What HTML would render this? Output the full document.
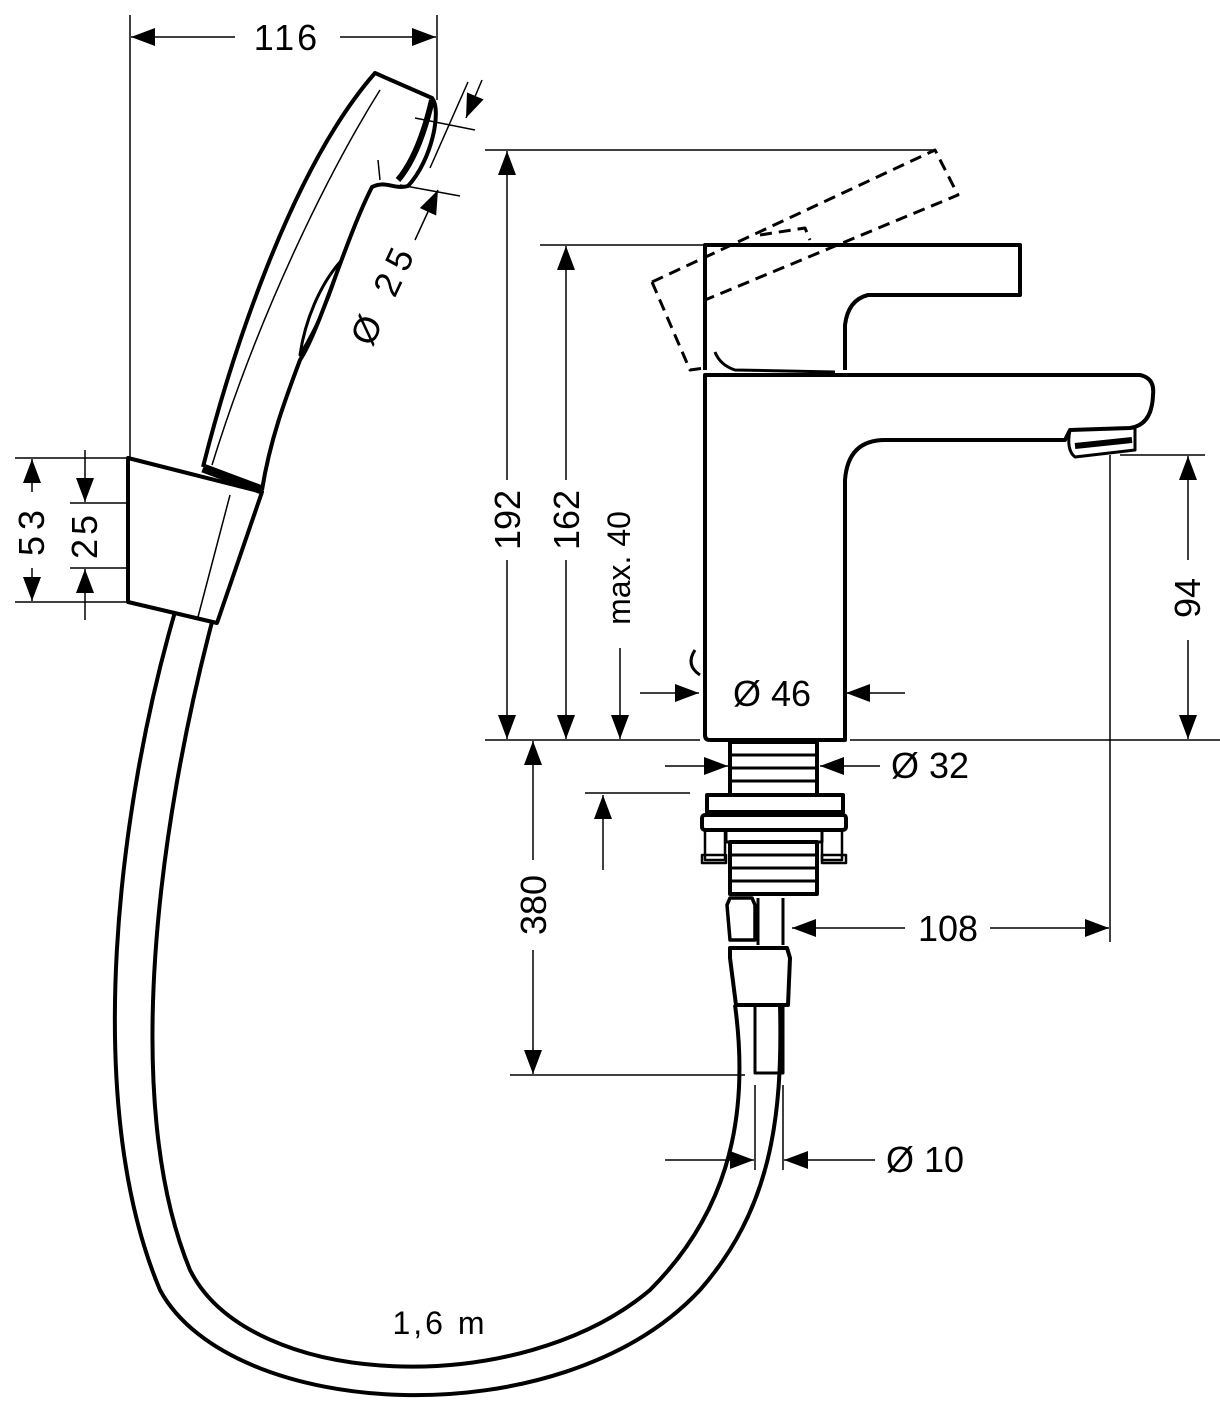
<!DOCTYPE html>
<html><head><meta charset="utf-8"><style>html,body{margin:0;padding:0;background:#fff}svg{display:block}text{font-family:"Liberation Sans",sans-serif;fill:#000}</style></head><body>
<svg width="1220" height="1420" viewBox="0 0 1220 1420" xmlns="http://www.w3.org/2000/svg">
<defs><marker id="a" markerWidth="26" markerHeight="18" refX="24" refY="9" orient="auto" markerUnits="userSpaceOnUse"><path d="M0,0 L24,9 L0,18z" fill="#000"/></marker></defs>
<g fill="none" stroke="#000" stroke-width="1.5">
<line x1="130" y1="15" x2="130" y2="458"/><line x1="437" y1="15" x2="437" y2="100"/>
<line x1="235" y1="37" x2="131" y2="37" marker-end="url(#a)"/><line x1="340" y1="37" x2="436" y2="37" marker-end="url(#a)"/>
<line x1="15" y1="458" x2="128" y2="458"/><line x1="15" y1="602" x2="128" y2="602"/>
<line x1="70" y1="503" x2="128" y2="503"/><line x1="70" y1="568" x2="128" y2="568"/>
<line x1="32" y1="492" x2="32" y2="459" marker-end="url(#a)"/><line x1="32" y1="568" x2="32" y2="601" marker-end="url(#a)"/>
<line x1="85" y1="450" x2="85" y2="502" marker-end="url(#a)"/><line x1="85" y1="620" x2="85" y2="569" marker-end="url(#a)"/>
<line x1="485" y1="150" x2="935" y2="150"/><line x1="540" y1="245" x2="705" y2="245"/>
<line x1="485" y1="740" x2="700" y2="740"/><line x1="850" y1="740" x2="1220" y2="740"/>
<line x1="507" y1="480" x2="507" y2="151" marker-end="url(#a)"/><line x1="507" y1="560" x2="507" y2="739" marker-end="url(#a)"/>
<line x1="566" y1="480" x2="566" y2="246" marker-end="url(#a)"/><line x1="566" y1="560" x2="566" y2="739" marker-end="url(#a)"/>
<line x1="620" y1="648" x2="620" y2="739" marker-end="url(#a)"/>
<line x1="1120" y1="455" x2="1205" y2="455"/><line x1="1110" y1="455" x2="1110" y2="942"/>
<line x1="1188" y1="560" x2="1188" y2="456" marker-end="url(#a)"/><line x1="1188" y1="640" x2="1188" y2="739" marker-end="url(#a)"/>
<line x1="640" y1="693" x2="699" y2="693" marker-end="url(#a)"/><line x1="905" y1="693" x2="846" y2="693" marker-end="url(#a)"/>
<line x1="665" y1="766" x2="728" y2="766" marker-end="url(#a)"/><line x1="880" y1="766" x2="820" y2="766" marker-end="url(#a)"/>
<line x1="585" y1="793" x2="690" y2="793"/><line x1="603" y1="870" x2="603" y2="795" marker-end="url(#a)"/>
<line x1="905" y1="928" x2="792" y2="928" marker-end="url(#a)"/><line x1="990" y1="928" x2="1109" y2="928" marker-end="url(#a)"/>
<line x1="533" y1="860" x2="533" y2="741" marker-end="url(#a)"/><line x1="533" y1="950" x2="533" y2="1074" marker-end="url(#a)"/>
<line x1="510" y1="1075" x2="745" y2="1075"/>
<line x1="755" y1="1085" x2="755" y2="1170"/><line x1="783" y1="1085" x2="783" y2="1170"/>
<line x1="665" y1="1160" x2="754" y2="1160" marker-end="url(#a)"/><line x1="875" y1="1160" x2="784" y2="1160" marker-end="url(#a)"/>
<line x1="468" y1="82" x2="430" y2="168"/>
<line x1="415" y1="118" x2="475" y2="130"/><line x1="400" y1="185" x2="460" y2="196"/>
<line x1="482" y1="80" x2="466" y2="118" marker-end="url(#a)"/><line x1="415" y1="240" x2="438" y2="190" marker-end="url(#a)"/>
</g>
<g font-size="36">
<text x="287" y="50" text-anchor="middle" letter-spacing="3">116</text>
<text transform="translate(44,530) rotate(-90)" text-anchor="middle" letter-spacing="6">53</text>
<text transform="translate(97,535) rotate(-90)" text-anchor="middle" letter-spacing="4">25</text>
<text transform="translate(520,520) rotate(-90)" text-anchor="middle">192</text>
<text transform="translate(579,520) rotate(-90)" text-anchor="middle">162</text>
<text transform="translate(630,568) rotate(-90)" text-anchor="middle" font-size="32">max. 40</text>
<text transform="translate(1200,598) rotate(-90)" text-anchor="middle">94</text>
<text transform="translate(546,905) rotate(-90)" text-anchor="middle">380</text>
<text x="772" y="706" text-anchor="middle">Ø 46</text>
<text x="930" y="778" text-anchor="middle">Ø 32</text>
<text x="948" y="941" text-anchor="middle">108</text>
<text x="925" y="1172" text-anchor="middle">Ø 10</text>
<text x="440" y="1334" text-anchor="middle" font-size="32" letter-spacing="3">1,6 m</text>
<text transform="translate(395,298) rotate(-65)" text-anchor="middle" letter-spacing="8">Ø 25</text>
</g>
<g fill="none" stroke="#000" stroke-width="4" stroke-linejoin="round">
<path d="M203,467 C230,360 290,170 375,73 L432,98 C442,110 432,160 408,186 C395,190 385,180 372,187 C345,240 320,330 300,360 C285,400 270,440 262,490"/>
<path d="M300,355 C305,320 320,285 340,262 C330,300 315,330 300,355z" stroke-width="3"/>
<path d="M380,90 C330,170 260,310 212,465" stroke-width="1.5"/>
<path d="M432,100 C425,130 415,160 398,180" stroke-width="6"/>
<line x1="378" y1="160" x2="380" y2="180" stroke-width="1.5"/>
<path d="M128,458 L262,492 L217,623 L128,602z"/>
<line x1="203" y1="468" x2="262" y2="490" stroke-width="9"/>
<line x1="230" y1="495" x2="198" y2="617" stroke-width="1.5"/>
<!-- hose -->
<path d="M175,612 C120,800 80,1100 160,1290 C230,1420 560,1440 700,1290 C770,1210 783,1120 780,1005"/>
<path d="M212,622 C160,820 120,1100 190,1270 C250,1390 520,1400 650,1290 C720,1220 752,1130 735,1005"/>
<rect x="755" y="1005" width="28" height="68" stroke-width="3"/>
<path d="M705,375 L1140,375 Q1155,378 1153,395 Q1152,425 1130,428 L1070,430 L1065,440 L885,440 Q848,440 845,480 L845,740 L710,740 Q705,740 705,735z"/>
<path d="M1070,430 L1135,428 L1135,450 L1075,457 Q1066,450 1070,430z" stroke-width="3"/>
<line x1="1075" y1="446" x2="1132" y2="440" stroke-width="6"/>
<path d="M705,370 L705,245 L1020,245 L1020,295 L868,295 Q848,300 845,325 L845,370"/>
<path d="M715,352 Q720,365 735,370 L835,372" stroke-width="3"/>
<path d="M695,650 Q685,665 700,675" stroke-width="3"/>
<path d="M652,282 L935,150 L958,195 L705,300" stroke-dasharray="12,7" stroke-width="3"/>
<path d="M652,282 L690,370 L705,368" stroke-dasharray="12,7" stroke-width="3"/>
<path d="M760,235 L805,228 L810,240" stroke-dasharray="12,7" stroke-width="3"/>
<rect x="730" y="742" width="87" height="53"/>
<g stroke-width="3"><line x1="730" y1="755" x2="817" y2="755"/><line x1="730" y1="768" x2="817" y2="768"/><line x1="730" y1="781" x2="817" y2="781"/></g>
<rect x="707" y="795" width="136" height="17"/>
<rect x="702" y="815" width="144" height="15" rx="3"/>
<rect x="726" y="830" width="96" height="12" stroke-width="3"/>
<rect x="730" y="842" width="87" height="52"/>
<g stroke-width="3"><line x1="730" y1="855" x2="817" y2="855"/><line x1="730" y1="868" x2="817" y2="868"/><line x1="730" y1="881" x2="817" y2="881"/></g>
<rect x="705" y="830" width="20" height="30" stroke-width="2.5"/><rect x="822" y="830" width="20" height="30" stroke-width="2.5"/>
<rect x="702" y="855" width="24" height="8" stroke-width="2.5"/><rect x="822" y="855" width="24" height="8" stroke-width="2.5"/>
<path d="M730,898 L752,898 L755,905 L755,940 L730,940 L727,905z" stroke-width="3.5"/>
<line x1="758" y1="898" x2="758" y2="945" stroke-width="3"/><line x1="783" y1="898" x2="783" y2="945" stroke-width="3"/>
<path d="M730,948 L787,948 L790,958 L788,1005 L736,1005 L730,958z"/>
</g>
</svg>
</body></html>
